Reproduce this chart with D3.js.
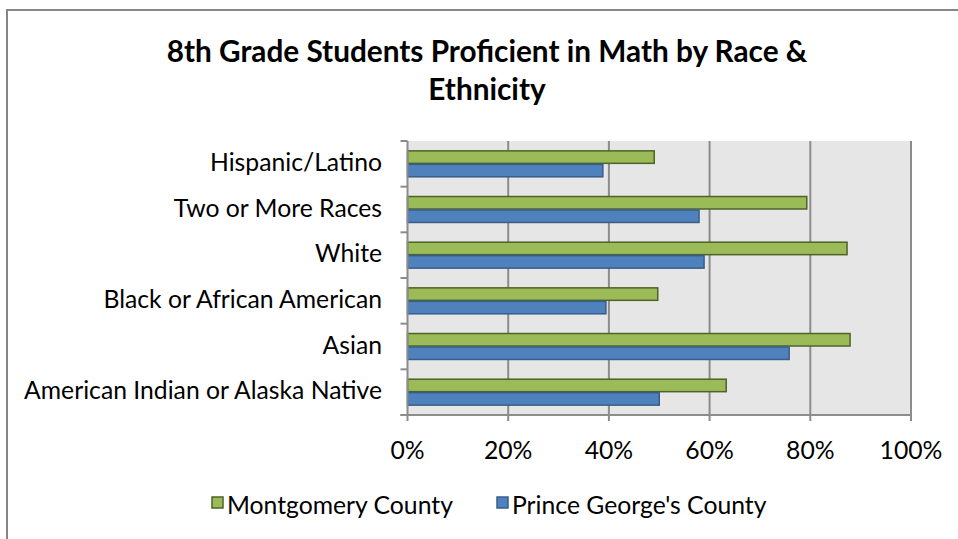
<!DOCTYPE html>
<html><head><meta charset="utf-8">
<script src="https://cdn.jsdelivr.net/npm/d3@7"></script>
<style>body{margin:0;background:#fff}svg{display:block}text{font-family:Lato,"Open Sans",sans-serif;fill:#000}</style>
</head><body><svg id="c" width="958" height="539"></svg>
<script>
const categories = ["Hispanic/Latino","Two or More Races","White","Black or African American","Asian","American Indian or Alaska Native"];
const seriesNames = ["Montgomery County","Prince George's County"];
const montgomery = [0.49, 0.793, 0.873, 0.497, 0.879, 0.633];
const princeGeorges = [0.388, 0.579, 0.589, 0.394, 0.758, 0.50];
const xTicks = [0,0.2,0.4,0.6,0.8,1.0];
const colors = ["#9bbb59","#4f81bd"];
const strokes = ["#4f6228","#385d8a"];

const svg = d3.select("#c");
function fit(sel, w){ const n=sel.node(); const L=n.getComputedTextLength(); const fs=parseFloat(sel.attr("font-size")); sel.attr("font-size", fs*w/L); }

svg.append("rect").attr("x",7).attr("y",10).attr("width",1000).attr("height",600).attr("fill","#fff").attr("stroke","#868686").attr("stroke-width",2);

const L=407.5, R=911, T=141, B=415;
const x = d3.scaleLinear().domain([0,1]).range([L,R]);
const y = d3.scaleBand().domain(categories).range([T,B]).paddingInner(0.41).paddingOuter(0.205);
const ys = d3.scaleBand().domain([0,1]).range([0,y.bandwidth()]);

svg.append("rect").attr("x",L).attr("y",T).attr("width",R-L).attr("height",B-T).attr("fill","#e6e6e6");
svg.append("g").selectAll("line").data(xTicks.slice(1)).join("line")
  .attr("x1",d=>x(d)).attr("x2",d=>x(d)).attr("y1",T).attr("y2",B)
  .attr("stroke","#8c8c8c").attr("stroke-width",2);

const data = [montgomery, princeGeorges];
data.forEach((vals,si)=>{
  svg.append("g").selectAll("rect").data(vals).join("rect")
    .attr("x",L).attr("y",(d,i)=>y(categories[i])+ys(si)+0.5)
    .attr("width",d=>x(d)-L).attr("height",ys.bandwidth()-1)
    .attr("fill",colors[si]).attr("stroke",strokes[si]).attr("stroke-width",1.5);
});

// axes
const gy = svg.append("g");
gy.append("line").attr("x1",L).attr("x2",L).attr("y1",T).attr("y2",B).attr("stroke","#8c8c8c").attr("stroke-width",2);
const bounds = d3.range(categories.length+1).map(i=>T+i*(B-T)/categories.length);
gy.selectAll("line.t").data(bounds).join("line").attr("class","t")
  .attr("x1",L-7).attr("x2",L).attr("y1",d=>d).attr("y2",d=>d).attr("stroke","#8c8c8c").attr("stroke-width",2);
gy.selectAll("text").data(categories).join("text")
  .attr("x",382).attr("y",d=>y(d)+y.bandwidth()/2+7).attr("text-anchor","end").attr("font-size",20).text(d=>d);
fit(gy.selectAll("text").filter(d=>d===categories[5]), 358);
const fsY = gy.selectAll("text").filter(d=>d===categories[5]).attr("font-size");
gy.selectAll("text").attr("font-size",fsY);

const gx = svg.append("g");
gx.append("line").attr("x1",L-7).attr("x2",R+1).attr("y1",B).attr("y2",B).attr("stroke","#8c8c8c").attr("stroke-width",2);
gx.selectAll("line.t").data(xTicks).join("line").attr("class","t")
  .attr("x1",d=>x(d)).attr("x2",d=>x(d)).attr("y1",B).attr("y2",B+6).attr("stroke","#8c8c8c").attr("stroke-width",2);
gx.selectAll("text").data(xTicks).join("text")
  .attr("x",d=>x(d)).attr("y",459).attr("text-anchor","middle").attr("font-size",fsY).text(d3.format(".0%"));

// title
const t1 = svg.append("text").attr("x",487).attr("y",62).attr("text-anchor","middle").attr("font-weight","bold").attr("font-size",24).text("8th Grade Students Proficient in Math by Race &");
fit(t1, 641);
svg.append("text").attr("x",487).attr("y",100).attr("text-anchor","middle").attr("font-weight","bold").attr("font-size",t1.attr("font-size")).text("Ethnicity");

// legend
const legX = [212, 497];
seriesNames.forEach((n,i)=>{
  svg.append("rect").attr("x",legX[i]).attr("y",497).attr("width",11).attr("height",11).attr("fill",colors[i]).attr("stroke",strokes[i]).attr("stroke-width",1.5);
  svg.append("text").attr("x",legX[i]+15).attr("y",514).attr("font-size",fsY).text(n);
});
</script></body></html>
